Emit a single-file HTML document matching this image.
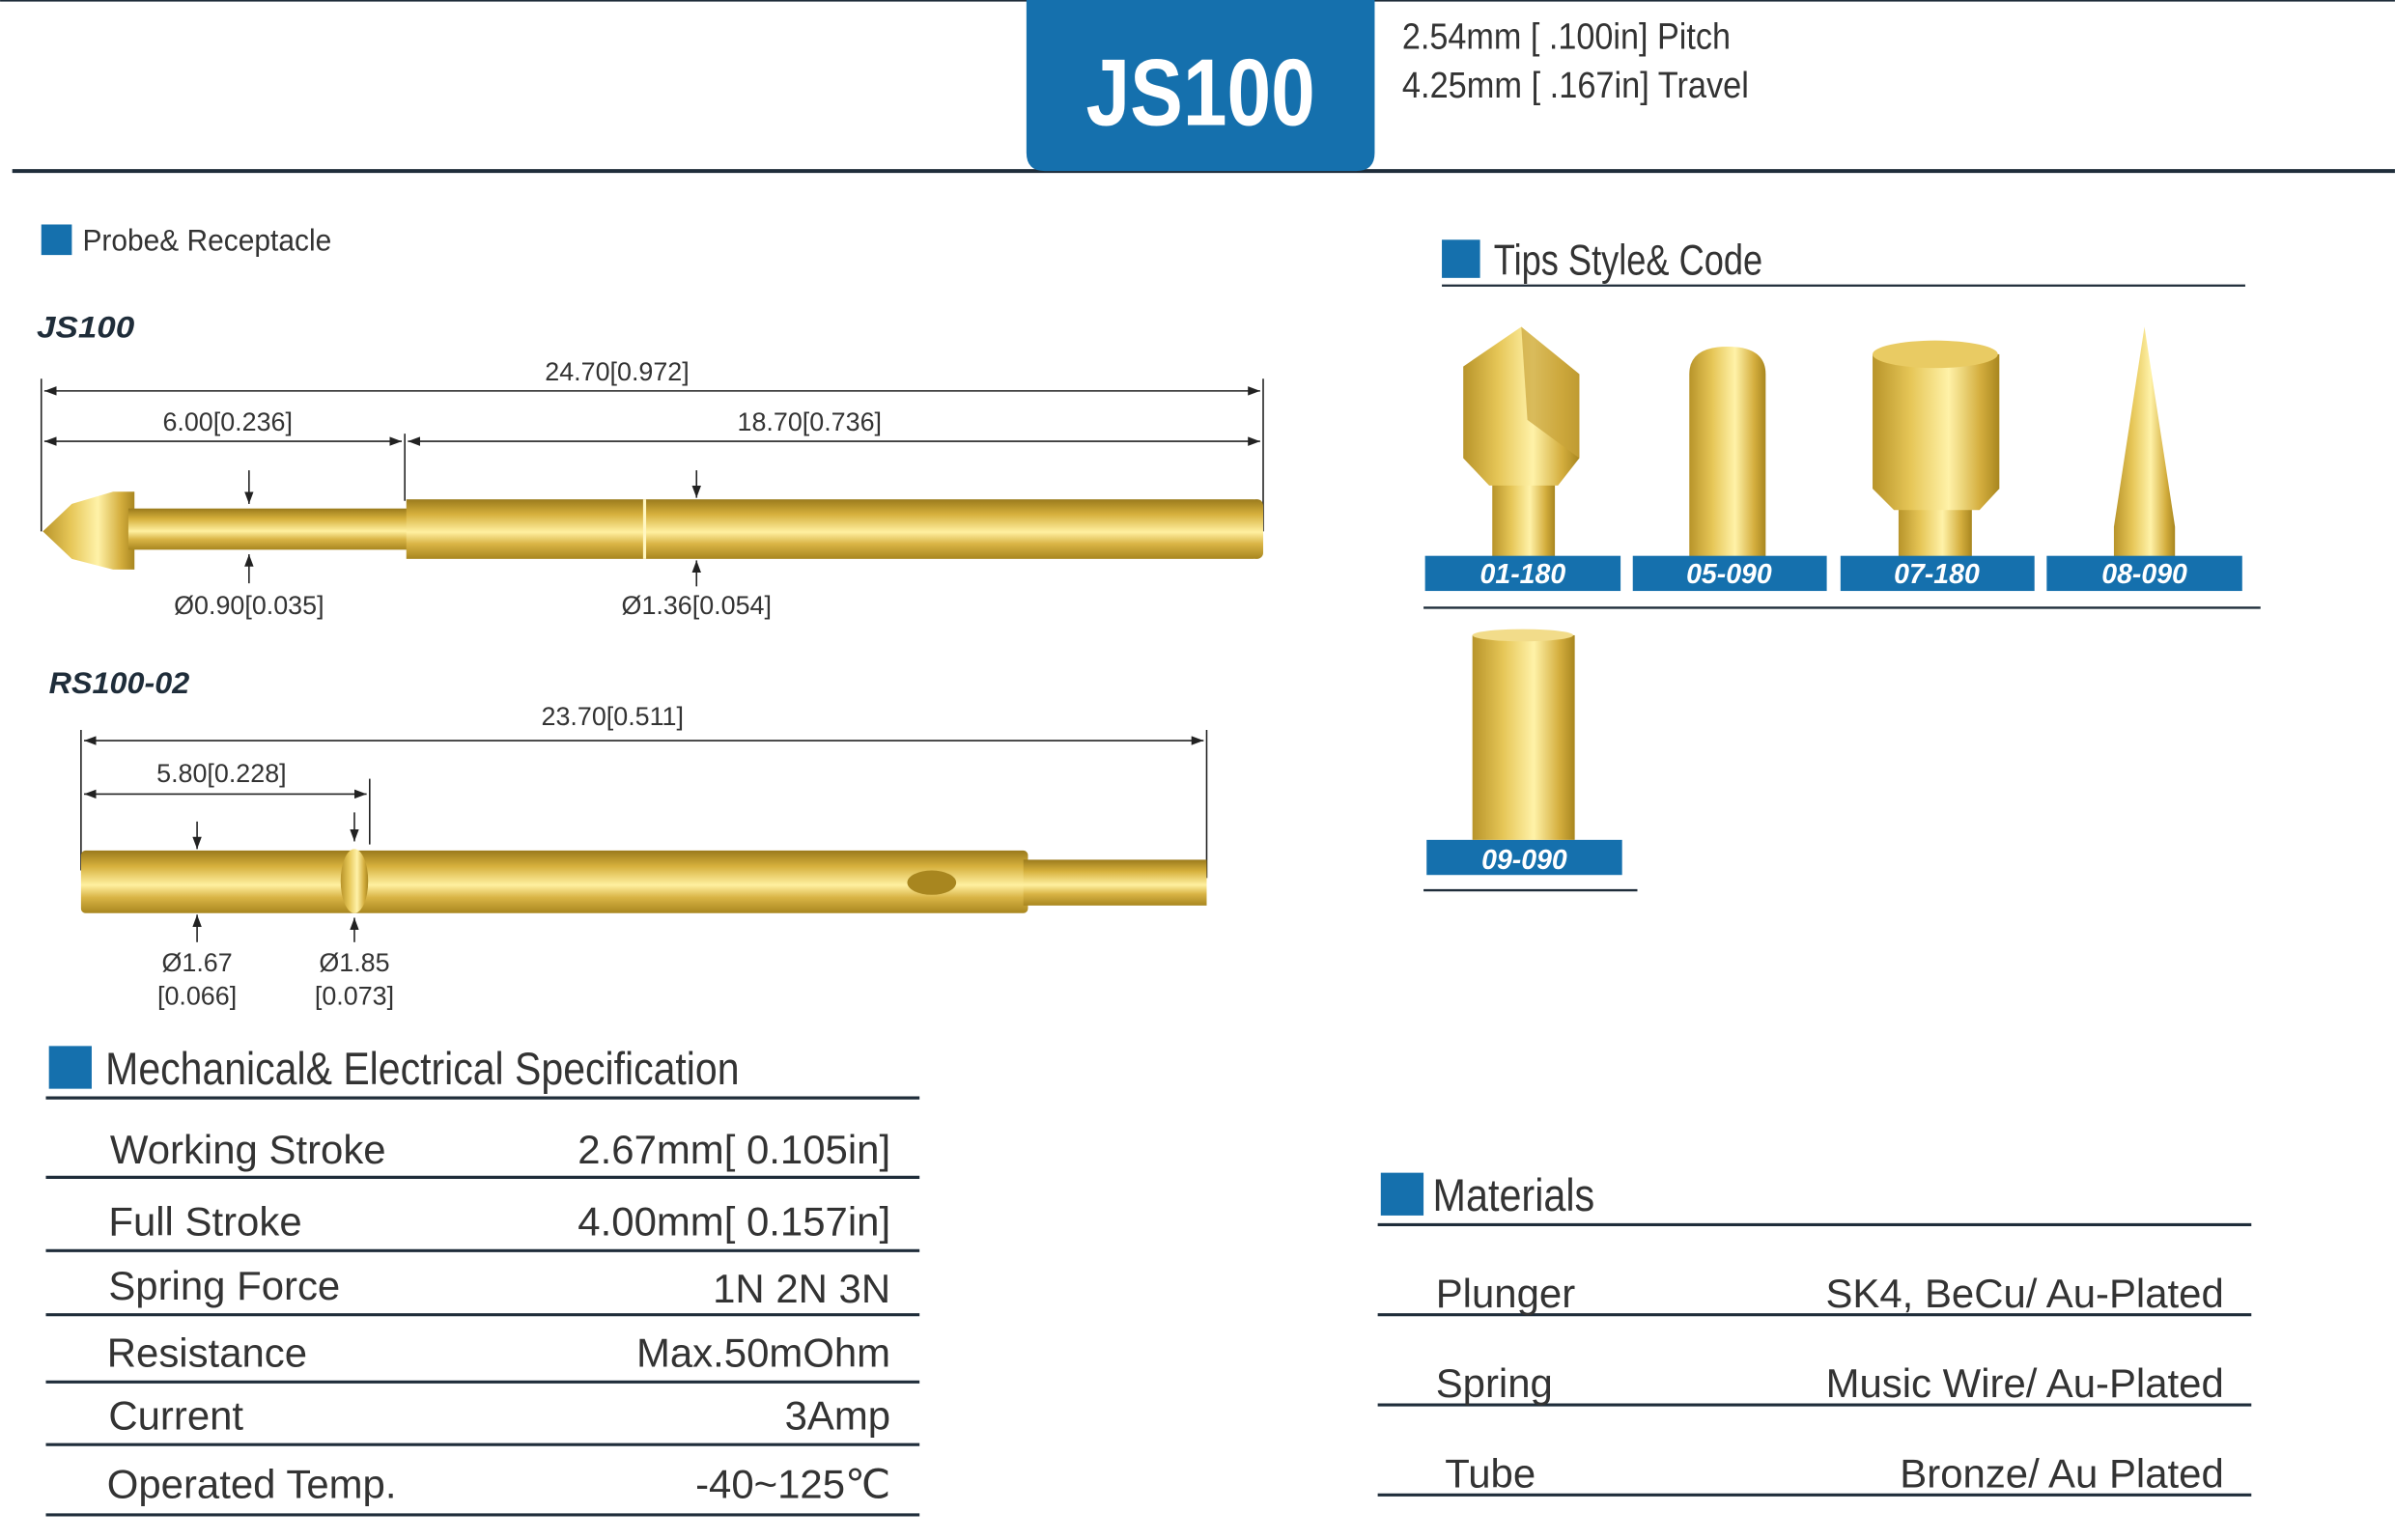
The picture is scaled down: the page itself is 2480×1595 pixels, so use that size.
<!DOCTYPE html>
<html><head><meta charset="utf-8"><style>html,body{margin:0;padding:0;background:#fff}svg{display:block}</style></head><body>
<svg width="2480" height="1595" viewBox="0 0 1568 1008.5" xmlns="http://www.w3.org/2000/svg" font-family="Liberation Sans, sans-serif">
<defs>
<linearGradient id="g" x1="0" y1="0" x2="0" y2="1">
<stop offset="0" stop-color="#9a7a1c"/><stop offset="0.25" stop-color="#d6b03c"/><stop offset="0.55" stop-color="#fff0a0"/><stop offset="0.75" stop-color="#d9b445"/><stop offset="1" stop-color="#a8861f"/>
</linearGradient>
<linearGradient id="gh" x1="0" y1="0" x2="1" y2="0">
<stop offset="0" stop-color="#b8942a"/><stop offset="0.3" stop-color="#e6c657"/><stop offset="0.6" stop-color="#fff2a8"/><stop offset="0.85" stop-color="#d4ae3e"/><stop offset="1" stop-color="#a8861f"/>
</linearGradient>
<marker id="a" markerWidth="8" markerHeight="6" refX="8" refY="3" orient="auto"><path d="M0,0 L8,3 L0,6z" fill="#222"/></marker>
<marker id="b" markerWidth="8" markerHeight="6" refX="0" refY="3" orient="auto"><path d="M8,0 L0,3 L8,6z" fill="#222"/></marker>
</defs>
<!-- header -->
<line x1="8" y1="112" x2="1568" y2="112" stroke="#1f2d3a" stroke-width="2.5"/>
<line x1="0" y1="0.5" x2="1568" y2="0.5" stroke="#1f2d3a" stroke-width="1"/>
<path d="M672,0 H900 V100 Q900,112 888,112 H684 Q672,112 672,100z" fill="#1570ad"/>
<text x="786" y="82" font-size="62" font-weight="bold" fill="#fff" text-anchor="middle" textLength="150" lengthAdjust="spacingAndGlyphs">JS100</text>
<text x="918" y="32" font-size="24" fill="#333" textLength="215" lengthAdjust="spacingAndGlyphs">2.54mm [ .100in] Pitch</text>
<text x="918" y="64" font-size="24" fill="#333" textLength="227" lengthAdjust="spacingAndGlyphs">4.25mm [ .167in] Travel</text>
<!-- probe section -->
<rect x="27" y="147" width="20" height="20" fill="#1570ad"/>
<text x="54" y="164" font-size="20" fill="#333" textLength="163" lengthAdjust="spacingAndGlyphs">Probe&amp; Receptacle</text>
<text x="24" y="221" font-size="20" font-weight="bold" font-style="italic" fill="#1f2d3a" textLength="64" lengthAdjust="spacingAndGlyphs">JS100</text>
<g stroke="#222" stroke-width="1" fill="none">
<line x1="27" y1="248" x2="27" y2="348"/><line x1="827" y1="248" x2="827" y2="348"/><line x1="265" y1="284" x2="265" y2="328"/>
<line x1="29" y1="256" x2="825" y2="256" marker-start="url(#b)" marker-end="url(#a)"/>
<line x1="29" y1="289" x2="263" y2="289" marker-start="url(#b)" marker-end="url(#a)"/>
<line x1="267" y1="289" x2="825" y2="289" marker-start="url(#b)" marker-end="url(#a)"/>
<line x1="163" y1="308" x2="163" y2="330" marker-end="url(#a)"/><line x1="163" y1="382" x2="163" y2="363" marker-end="url(#a)"/>
<line x1="456" y1="308" x2="456" y2="326" marker-end="url(#a)"/><line x1="456" y1="384" x2="456" y2="367" marker-end="url(#a)"/>
</g>
<g font-size="17" fill="#333" text-anchor="middle">
<text x="404" y="249">24.70[0.972]</text><text x="149" y="282">6.00[0.236]</text><text x="530" y="282">18.70[0.736]</text>
<text x="163" y="402">Ø0.90[0.035]</text><text x="456" y="402">Ø1.36[0.054]</text>
</g>
<path d="M28,348 L47,330 L74,322 H88 V373 H74 L47,366z" fill="url(#gh)"/>
<rect x="84" y="333" width="183" height="27" fill="url(#g)"/>
<rect x="266" y="327" width="555" height="39" fill="url(#g)"/>
<rect x="818" y="327" width="9" height="39" rx="4" fill="url(#g)"/>
<line x1="422" y1="327" x2="422" y2="366" stroke="#fff6c0" stroke-width="2"/>
<!-- receptacle -->
<text x="32" y="454" font-size="20" font-weight="bold" font-style="italic" fill="#1f2d3a" textLength="92" lengthAdjust="spacingAndGlyphs">RS100-02</text>
<g stroke="#222" stroke-width="1" fill="none">
<line x1="53" y1="478" x2="53" y2="570"/><line x1="790" y1="478" x2="790" y2="575"/><line x1="242" y1="510" x2="242" y2="553"/>
<line x1="55" y1="485" x2="788" y2="485" marker-start="url(#b)" marker-end="url(#a)"/>
<line x1="55" y1="520" x2="240" y2="520" marker-start="url(#b)" marker-end="url(#a)"/>
<line x1="129" y1="538" x2="129" y2="556" marker-end="url(#a)"/><line x1="129" y1="617" x2="129" y2="599" marker-end="url(#a)"/>
<line x1="232" y1="532" x2="232" y2="551" marker-end="url(#a)"/><line x1="232" y1="617" x2="232" y2="601" marker-end="url(#a)"/>
</g>
<g font-size="17" fill="#333" text-anchor="middle">
<text x="401" y="475">23.70[0.511]</text><text x="145" y="512">5.80[0.228]</text>
<text x="129" y="636">Ø1.67</text><text x="129" y="658">[0.066]</text>
<text x="232" y="636">Ø1.85</text><text x="232" y="658">[0.073]</text>
</g>
<rect x="53" y="557" width="620" height="41" rx="3" fill="url(#g)"/>
<rect x="670" y="563" width="120" height="30" fill="url(#g)"/>
<ellipse cx="232" cy="577" rx="9" ry="21" fill="url(#gh)"/>
<ellipse cx="610" cy="578" rx="16" ry="8" fill="#a8861f"/>
<!-- spec -->
<rect x="32" y="685" width="28" height="28" fill="#1570ad"/>
<text x="69" y="710" font-size="30" fill="#333" textLength="415" lengthAdjust="spacingAndGlyphs">Mechanical&amp; Electrical Specification</text>
<g stroke="#1f2d3a" stroke-width="2"><line x1="30" y1="719" x2="602" y2="719"/><line x1="30" y1="771" x2="602" y2="771"/><line x1="30" y1="819" x2="602" y2="819"/><line x1="30" y1="861" x2="602" y2="861"/><line x1="30" y1="905" x2="602" y2="905"/><line x1="30" y1="946" x2="602" y2="946"/><line x1="30" y1="992" x2="602" y2="992"/></g>
<g font-size="26.5" fill="#333">
<text x="72" y="762">Working Stroke</text><text x="71" y="809">Full Stroke</text><text x="71" y="851">Spring Force</text><text x="70" y="895">Resistance</text><text x="71" y="936">Current</text><text x="70" y="981">Operated Temp.</text>
</g>
<g font-size="26.5" fill="#333" text-anchor="end">
<text x="583" y="762">2.67mm[ 0.105in]</text><text x="583" y="809">4.00mm[ 0.157in]</text><text x="583" y="853">1N 2N 3N</text><text x="583" y="895">Max.50mOhm</text><text x="583" y="936">3Amp</text><text x="583" y="981">-40~125℃</text>
</g>
<!-- tips -->
<rect x="944" y="157" width="25" height="25" fill="#1570ad"/>
<text x="978" y="180" font-size="28" fill="#333" textLength="176" lengthAdjust="spacingAndGlyphs">Tips Style&amp; Code</text>
<line x1="944" y1="187" x2="1470" y2="187" stroke="#1f2d3a" stroke-width="1.5"/>
<rect x="977" y="310" width="41" height="55" fill="url(#gh)"/>
<path d="M958,240 L996,214 L1034,245 L1034,300 L1020,318 H975 L958,300z" fill="url(#gh)"/>
<path d="M996,214 L1000,275 L1034,300 V245z" fill="#c9a43a" opacity="0.7"/>
<path d="M1106,365 V245 Q1106,227 1131,227 Q1156,227 1156,245 V365z" fill="url(#gh)"/>
<rect x="1243" y="330" width="48" height="35" fill="url(#gh)"/>
<path d="M1226,232 H1309 V320 L1296,334 H1240 L1226,320z" fill="url(#gh)"/>
<ellipse cx="1267" cy="232" rx="41" ry="9" fill="#e9cb63"/>
<path d="M1404,214 L1424,345 V365 H1384 V345z" fill="url(#gh)"/>
<g fill="#1570ad"><rect x="933" y="364" width="128" height="23"/><rect x="1069" y="364" width="127" height="23"/><rect x="1205" y="364" width="127" height="23"/><rect x="1340" y="364" width="128" height="23"/><rect x="934" y="550" width="128" height="23"/></g>
<g font-size="18" font-weight="bold" font-style="italic" fill="#fff" text-anchor="middle">
<text x="997" y="382">01-180</text><text x="1132" y="382">05-090</text><text x="1268" y="382">07-180</text><text x="1404" y="382">08-090</text><text x="998" y="569">09-090</text>
</g>
<line x1="932" y1="398" x2="1480" y2="398" stroke="#1f2d3a" stroke-width="1.5"/>
<rect x="964" y="416" width="67" height="134" fill="url(#gh)"/>
<ellipse cx="997" cy="416" rx="33" ry="4" fill="#f2dc8a"/>
<line x1="932" y1="583" x2="1072" y2="583" stroke="#1f2d3a" stroke-width="1.5"/>
<!-- materials -->
<rect x="904" y="768" width="28" height="28" fill="#1570ad"/>
<text x="938" y="793" font-size="30" fill="#333" textLength="106" lengthAdjust="spacingAndGlyphs">Materials</text>
<g stroke="#1f2d3a" stroke-width="2"><line x1="902" y1="802" x2="1474" y2="802"/><line x1="902" y1="861" x2="1474" y2="861"/><line x1="902" y1="920" x2="1474" y2="920"/><line x1="902" y1="979" x2="1474" y2="979"/></g>
<g font-size="26.5" fill="#333"><text x="940" y="856">Plunger</text><text x="940" y="915">Spring</text><text x="946" y="974">Tube</text></g>
<g font-size="26.5" fill="#333" text-anchor="end"><text x="1456" y="856">SK4, BeCu/ Au-Plated</text><text x="1456" y="915">Music Wire/ Au-Plated</text><text x="1456" y="974">Bronze/ Au Plated</text></g>
</svg>
</body></html>
